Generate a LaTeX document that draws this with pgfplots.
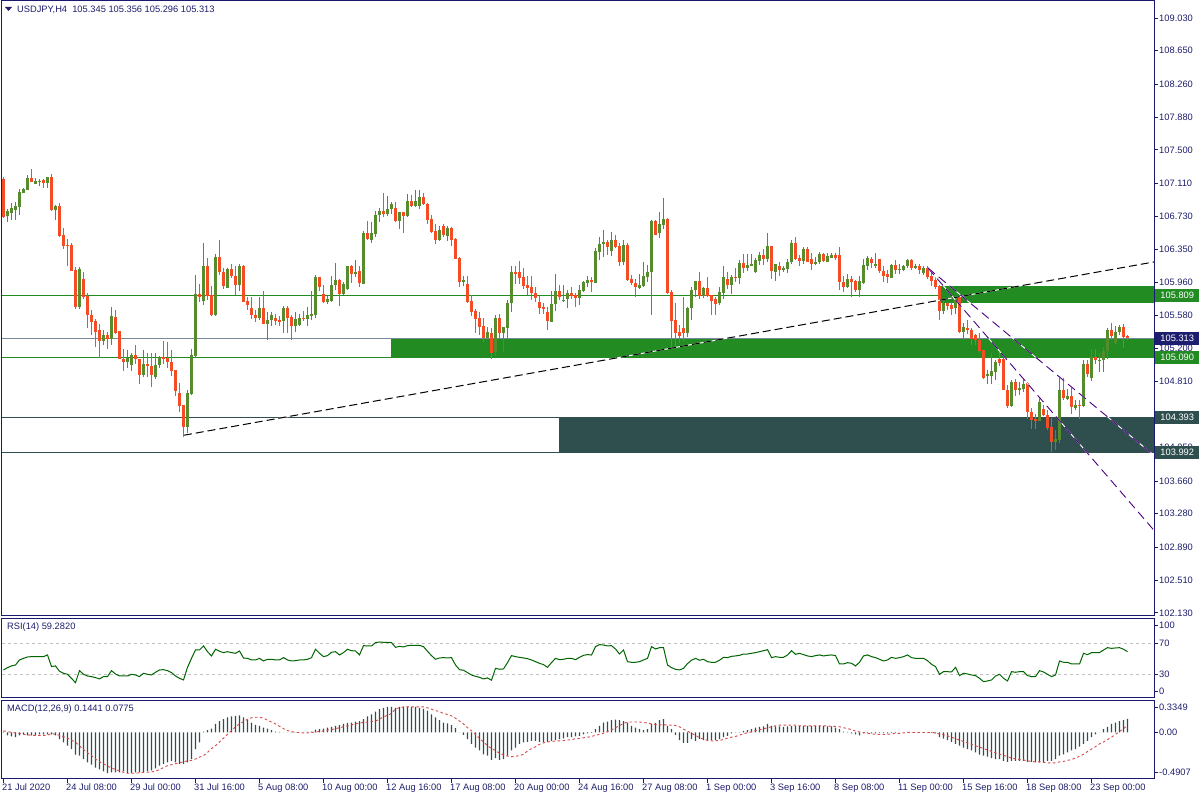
\documentclass[border=0pt]{standalone}
\usepackage{pgfplots}
\usepackage{pgfplotstable}
\usepackage{fontspec}
\pgfplotsset{compat=1.18}
\newfontfamily\lblfont{Liberation Sans}
\newcommand\lbl{\lblfont\fontsize{9.3}{11}\selectfont}
\definecolor{bull}{RGB}{86,140,46}
\definecolor{bear}{RGB}{244,76,36}
\definecolor{navytext}{RGB}{30,30,110}
\definecolor{frame}{RGB}{25,25,112}
\definecolor{fgreen}{RGB}{34,139,34}
\definecolor{dslate}{RGB}{47,79,79}
\definecolor{lsgray}{RGB}{119,136,153}
\definecolor{rsigreen}{RGB}{0,100,0}
\definecolor{sigred}{RGB}{214,74,74}
\definecolor{trpurple}{RGB}{75,0,130}
\definecolor{lvlgray}{RGB}{192,192,192}

\pgfplotstableread{
i o h l c
0 107.16 107.19 106.71 106.72
1 106.73 106.81 106.66 106.79
2 106.77 106.89 106.69 106.83
3 106.80 106.90 106.69 106.85
4 106.84 107.05 106.74 107.01
5 107.00 107.06 107.00 107.05
6 107.04 107.21 107.04 107.17
7 107.17 107.28 107.13 107.13
8 107.11 107.17 107.10 107.14
9 107.13 107.16 107.08 107.14
10 107.15 107.16 107.06 107.12
11 107.12 107.19 107.06 107.19
12 107.19 107.22 106.79 106.80
13 106.80 106.86 106.69 106.85
14 106.85 106.88 106.49 106.50
15 106.51 106.59 106.35 106.39
16 106.40 106.47 106.15 106.39
17 106.40 106.42 106.10 106.10
18 106.11 106.14 105.65 105.68
19 105.68 106.14 105.65 106.12
20 106.00 106.08 105.77 105.79
21 105.80 105.84 105.43 105.58
22 105.58 105.64 105.35 105.50
23 105.52 105.54 105.22 105.39
24 105.41 105.48 105.09 105.28
25 105.28 105.41 105.24 105.35
26 105.35 105.39 105.19 105.31
27 105.31 105.68 105.24 105.57
28 105.56 105.64 105.36 105.38
29 105.40 105.40 105.07 105.07
30 105.07 105.19 104.94 105.04
31 105.04 105.18 104.97 105.08
32 105.00 105.14 104.94 105.12
33 105.12 105.24 105.02 105.07
34 105.07 105.08 104.78 104.89
35 104.89 105.18 104.87 105.02
36 105.02 105.14 104.87 104.99
37 104.99 105.14 104.75 104.89
38 104.86 105.15 104.84 105.01
39 105.00 105.11 104.97 105.10
40 105.10 105.28 105.02 105.07
41 105.09 105.27 104.97 105.04
42 105.04 105.18 104.88 104.94
43 104.95 104.95 104.65 104.70
44 104.68 104.80 104.46 104.53
45 104.54 104.54 104.17 104.29
46 104.29 104.71 104.22 104.68
47 104.67 105.19 104.66 105.12
48 105.11 106.05 105.08 105.83
49 105.83 105.95 105.74 105.80
50 105.75 106.42 105.70 106.15
51 106.15 106.24 105.76 105.81
52 105.82 105.92 105.57 105.58
53 105.58 106.29 105.57 106.26
54 106.26 106.46 106.05 106.08
55 106.09 106.13 105.89 105.92
56 105.90 106.13 105.90 106.12
57 106.12 106.18 106.02 106.04
58 106.04 106.15 105.82 105.93
59 105.93 106.18 105.86 106.15
60 106.15 106.16 105.74 105.74
61 105.75 105.80 105.64 105.70
62 105.66 105.80 105.54 105.58
63 105.58 105.64 105.50 105.55
64 105.55 105.80 105.53 105.67
65 105.67 105.86 105.48 105.48
66 105.48 105.62 105.30 105.53
67 105.53 105.62 105.46 105.58
68 105.55 105.60 105.47 105.52
69 105.53 105.57 105.46 105.50
70 105.51 105.69 105.37 105.67
71 105.67 105.69 105.38 105.55
72 105.56 105.59 105.29 105.46
73 105.46 105.62 105.39 105.54
74 105.47 105.60 105.46 105.55
75 105.55 105.63 105.51 105.54
76 105.54 105.68 105.46 105.59
77 105.58 105.86 105.53 105.60
78 105.58 106.05 105.55 106.02
79 106.02 106.03 105.86 105.91
80 105.83 105.93 105.73 105.73
81 105.73 105.81 105.71 105.77
82 105.75 106.04 105.74 105.93
83 105.93 106.19 105.87 105.99
84 105.99 106.00 105.69 105.83
85 105.83 105.97 105.82 105.94
86 105.89 106.15 105.88 106.15
87 106.15 106.17 105.96 106.06
88 106.06 106.22 106.03 106.08
89 106.10 106.15 105.91 105.96
90 105.95 106.56 105.94 106.54
91 106.54 106.68 106.45 106.47
92 106.46 106.67 106.42 106.54
93 106.53 106.79 106.49 106.75
94 106.75 106.82 106.66 106.79
95 106.79 107.00 106.72 106.76
96 106.76 106.97 106.73 106.82
97 106.81 106.90 106.76 106.87
98 106.83 106.89 106.66 106.68
99 106.68 106.78 106.58 106.78
100 106.78 106.78 106.54 106.73
101 106.73 106.99 106.72 106.91
102 106.91 106.98 106.84 106.85
103 106.85 107.04 106.84 106.91
104 106.85 107.03 106.82 106.95
105 106.95 107.00 106.86 106.87
106 106.87 106.89 106.64 106.69
107 106.70 106.75 106.54 106.55
108 106.56 106.64 106.41 106.46
109 106.46 106.62 106.44 106.57
110 106.62 106.64 106.49 106.51
111 106.50 106.62 106.44 106.59
112 106.59 106.60 106.38 106.46
113 106.47 106.48 106.23 106.23
114 106.25 106.26 105.91 105.97
115 105.97 106.04 105.92 105.99
116 105.94 106.04 105.73 105.74
117 105.75 105.82 105.57 105.62
118 105.63 105.66 105.38 105.54
119 105.55 105.62 105.35 105.45
120 105.46 105.55 105.27 105.32
121 105.32 105.45 105.32 105.39
122 105.38 105.43 105.07 105.15
123 105.15 105.59 105.11 105.55
124 105.55 105.60 105.31 105.37
125 105.37 105.45 105.15 105.44
126 105.43 105.76 105.32 105.72
127 105.72 106.15 105.62 106.09
128 106.08 106.15 105.94 106.07
129 106.08 106.21 105.94 106.01
130 106.02 106.13 105.89 105.92
131 105.93 106.04 105.82 105.90
132 105.91 106.04 105.76 105.84
133 105.84 105.91 105.73 105.78
134 105.74 105.81 105.60 105.67
135 105.68 105.72 105.60 105.66
136 105.62 105.68 105.41 105.51
137 105.51 105.86 105.50 105.71
138 105.71 106.06 105.63 105.86
139 105.86 105.93 105.76 105.79
140 105.75 105.93 105.74 105.76
141 105.77 105.88 105.67 105.84
142 105.84 105.91 105.77 105.80
143 105.82 105.84 105.68 105.78
144 105.78 105.93 105.70 105.88
145 105.86 105.98 105.85 105.97
146 105.96 106.04 105.91 105.99
147 105.99 106.03 105.85 105.97
148 105.96 106.36 105.96 106.33
149 106.32 106.49 106.22 106.41
150 106.41 106.57 106.26 106.43
151 106.43 106.46 106.28 106.37
152 106.33 106.55 106.27 106.46
153 106.46 106.51 106.36 106.37
154 106.39 106.42 106.15 106.20
155 106.20 106.46 106.17 106.40
156 106.40 106.42 105.98 105.99
157 106.00 106.05 105.93 105.96
158 105.96 106.00 105.79 105.91
159 105.90 106.06 105.89 105.93
160 105.92 106.20 105.91 106.04
161 106.03 106.16 105.97 106.08
162 106.08 106.69 105.58 106.68
163 106.68 106.69 106.51 106.51
164 106.54 106.78 106.48 106.64
165 106.63 106.94 106.58 106.70
166 106.70 106.71 105.83 105.84
167 105.85 105.88 105.19 105.52
168 105.53 105.72 105.22 105.38
169 105.39 105.47 105.26 105.34
170 105.43 105.80 105.28 105.38
171 105.38 105.68 105.33 105.67
172 105.66 105.91 105.53 105.88
173 105.88 105.98 105.79 105.98
174 105.98 106.08 105.77 105.81
175 105.81 105.91 105.78 105.90
176 105.90 106.03 105.79 105.81
177 105.82 105.82 105.58 105.75
178 105.77 105.79 105.58 105.71
179 105.73 105.91 105.70 105.85
180 105.84 106.15 105.77 106.02
181 106.00 106.09 105.89 105.93
182 105.93 106.05 105.83 106.03
183 106.03 106.13 105.97 106.02
184 106.02 106.22 105.94 106.19
185 106.19 106.29 106.07 106.13
186 106.13 106.29 106.10 106.17
187 106.15 106.29 106.15 106.18
188 106.08 106.25 106.07 106.22
189 106.21 106.31 106.17 106.28
190 106.28 106.35 106.17 106.23
191 106.23 106.54 106.20 106.39
192 106.39 106.39 106.00 106.09
193 106.09 106.18 105.98 106.18
194 106.15 106.20 106.04 106.11
195 106.11 106.15 106.08 106.13
196 106.12 106.24 106.07 106.20
197 106.20 106.46 106.18 106.42
198 106.42 106.49 106.22 106.23
199 106.25 106.28 106.15 106.21
200 106.21 106.38 106.18 106.35
201 106.35 106.37 106.20 106.20
202 106.23 106.30 106.11 106.18
203 106.18 106.26 106.17 106.20
204 106.20 106.32 106.18 106.29
205 106.29 106.30 106.20 106.21
206 106.20 106.30 106.20 106.27
207 106.25 106.30 106.24 106.28
208 106.28 106.30 106.22 106.25
209 106.28 106.37 105.87 105.97
210 105.97 106.04 105.85 105.91
211 105.91 106.06 105.90 106.00
212 106.00 106.04 105.80 105.97
213 105.98 105.99 105.85 105.87
214 105.87 106.04 105.79 105.98
215 105.96 106.24 105.95 106.17
216 106.15 106.27 106.11 106.25
217 106.23 106.26 106.13 106.19
218 106.15 106.30 106.13 106.18
219 106.23 106.24 106.07 106.09
220 106.10 106.15 105.97 106.04
221 106.06 106.11 105.96 106.02
222 106.02 106.18 106.01 106.17
223 106.17 106.22 106.06 106.11
224 106.11 106.18 106.06 106.12
225 106.11 106.17 106.10 106.15
226 106.15 106.24 106.13 106.22
227 106.22 106.24 106.11 106.13
228 106.13 106.18 106.12 106.15
229 106.15 106.18 106.06 106.11
230 106.07 106.15 106.05 106.13
231 106.13 106.15 106.00 106.03
232 106.04 106.09 105.92 105.98
233 105.99 106.04 105.89 105.91
234 105.92 105.93 105.53 105.63
235 105.63 105.75 105.60 105.72
236 105.72 105.74 105.64 105.69
237 105.70 105.74 105.59 105.65
238 105.67 105.81 105.60 105.79
239 105.80 105.81 105.38 105.39
240 105.39 105.49 105.30 105.45
241 105.43 105.53 105.37 105.41
242 105.41 105.43 105.24 105.31
243 105.35 105.37 105.24 105.29
244 105.30 105.38 105.14 105.17
245 105.18 105.18 104.84 104.86
246 104.88 104.95 104.79 104.90
247 104.88 105.14 104.78 104.94
248 104.92 105.06 104.83 105.04
249 105.07 105.16 104.99 105.03
250 105.07 105.08 104.71 104.72
251 104.72 104.77 104.51 104.53
252 104.53 104.83 104.52 104.81
253 104.81 104.84 104.64 104.71
254 104.71 104.81 104.66 104.74
255 104.73 104.84 104.69 104.79
256 104.80 104.81 104.38 104.46
257 104.46 104.50 104.26 104.37
258 104.38 104.44 104.26 104.36
259 104.36 104.62 104.35 104.57
260 104.49 104.54 104.41 104.42
261 104.43 104.48 104.25 104.27
262 104.28 104.39 104.00 104.11
263 104.11 104.25 104.02 104.15
264 104.14 104.86 104.10 104.72
265 104.72 104.85 104.60 104.62
266 104.61 104.73 104.60 104.65
267 104.65 104.75 104.44 104.52
268 104.50 104.60 104.48 104.54
269 104.54 104.60 104.38 104.53
270 104.53 105.06 104.52 105.02
271 105.02 105.06 104.87 104.90
272 104.86 105.19 104.82 105.10
273 105.10 105.19 105.02 105.06
274 105.06 105.14 104.92 105.06
275 105.06 105.22 104.92 105.17
276 105.17 105.43 105.08 105.41
277 105.41 105.49 105.30 105.34
278 105.26 105.46 105.25 105.39
279 105.39 105.47 105.35 105.45
280 105.44 105.48 105.20 105.33
281 105.345 105.356 105.296 105.313
}\candles

\pgfplotstableread{
i r m s
0 35.6 0.01 0.017
1 38.6 -0.03 0.01
2 40.8 -0.04 0.0
3 42 -0.05 -0.005
4 48.5 -0.03 -0.01
5 50.6 -0.02 -0.02
6 52.4 -0.03 -0.025
7 52.8 -0.03 -0.03
8 52.8 -0.03 -0.03
9 52.8 -0.02 -0.03
10 52.8 -0.02 -0.03
11 55 -0.02 -0.03
12 40 -0.02 -0.01
13 40.8 -0.03 -0.02
14 33.9 -0.07 -0.03
15 31.3 -0.105 -0.045
16 30 -0.14 -0.06
17 24.8 -0.175 -0.08
18 19.2 -0.235 -0.105
19 34.7 -0.245 -0.14
20 30 -0.28 -0.18
21 27.8 -0.315 -0.215
22 27 -0.34 -0.245
23 25.7 -0.37 -0.28
24 24 -0.39 -0.31
25 27 -0.41 -0.33
26 27 -0.43 -0.355
27 34.7 -0.42 -0.375
28 30.4 -0.42 -0.39
29 27.8 -0.42 -0.405
30 27.8 -0.41 -0.42
31 27.8 -0.43 -0.43
32 30 -0.43 -0.43
33 29.1 -0.42 -0.43
34 27 -0.42 -0.425
35 31.3 -0.42 -0.42
36 30 -0.41 -0.42
37 29.1 -0.40 -0.415
38 32.6 -0.38 -0.41
39 35.6 -0.35 -0.39
40 36 -0.33 -0.37
41 34.7 -0.315 -0.35
42 32.2 -0.30 -0.34
43 27.8 -0.315 -0.33
44 24.8 -0.33 -0.32
45 22.7 -0.33 -0.31
46 39 -0.315 -0.30
47 50.6 -0.28 -0.295
48 61.4 -0.175 -0.28
49 61.4 -0.105 -0.26
50 66.6 0.01 -0.245
51 59.2 0.025 -0.21
52 53.7 0.04 -0.17
53 62.3 0.09 -0.14
54 59.7 0.12 -0.1
55 58 0.14 -0.06
56 59.2 0.16 -0.02
57 58 0.17 0.02
58 57.1 0.175 0.06
59 60.1 0.18 0.09
60 51 0.16 0.115
61 50.6 0.13 0.14
62 48.5 0.105 0.155
63 48.5 0.08 0.16
64 50.6 0.07 0.16
65 47.2 0.05 0.15
66 49.4 0.04 0.13
67 49.4 0.025 0.11
68 48.5 0.01 0.09
69 48.5 0.005 0.065
70 51.5 0 0.04
71 48.5 0 0.02
72 47.2 0.005 0.01
73 47.6 0 0.0
74 48.5 0 0.0
75 48.5 0 -0.005
76 49.4 0.005 -0.005
77 51.5 0.01 0
78 62.3 0.03 0.005
79 57.1 0.035 0.01
80 52.8 0.04 0.015
81 54.1 0.05 0.025
82 58.4 0.06 0.03
83 59.2 0.07 0.04
84 55 0.077 0.05
85 58 0.09 0.06
86 62.3 0.10 0.07
87 60.5 0.105 0.08
88 60.1 0.115 0.09
89 55 0.12 0.1
90 67 0.14 0.105
91 66.6 0.17 0.11
92 66.6 0.19 0.115
93 70.9 0.22 0.12
94 71.7 0.245 0.14
95 71.3 0.26 0.165
96 71.3 0.27 0.18
97 70.9 0.27 0.2
98 64.8 0.26 0.25
99 66.1 0.27 0.26
100 65.3 0.27 0.27
101 67 0.27 0.27
102 67.4 0.27 0.27
103 67.4 0.27 0.27
104 67.4 0.26 0.27
105 65.7 0.25 0.27
106 59.7 0.23 0.26
107 54.1 0.19 0.245
108 49.4 0.16 0.23
109 51.1 0.13 0.22
110 51.5 0.105 0.2
111 51.1 0.095 0.19
112 51.5 0.077 0.175
113 42 0.045 0.15
114 36 0.0 0.12
115 35.2 -0.025 0.09
116 32.2 -0.07 0.05
117 29.1 -0.12 0.018
118 27.4 -0.16 -0.02
119 26.1 -0.19 -0.063
120 24 -0.23 -0.1
121 25.3 -0.245 -0.14
122 22.3 -0.29 -0.17
123 37.7 -0.27 -0.19
124 36.5 -0.29 -0.22
125 36.9 -0.28 -0.235
126 45.1 -0.245 -0.25
127 54.1 -0.19 -0.255
128 52.8 -0.16 -0.25
129 51.9 -0.12 -0.245
130 51.1 -0.105 -0.23
131 50.2 -0.1 -0.195
132 48.5 -0.09 -0.17
133 46.3 -0.09 -0.15
134 44.2 -0.1 -0.125
135 42.5 -0.105 -0.11
136 39 -0.1 -0.1
137 45.1 -0.09 -0.095
138 50.6 -0.08 -0.09
139 48.9 -0.07 -0.088
140 49.4 -0.063 -0.085
141 50.6 -0.05 -0.08
142 50.6 -0.05 -0.075
143 48.9 -0.04 -0.066
144 51.9 -0.035 -0.063
145 54.5 -0.02 -0.056
146 55.4 -0.01 -0.05
147 54.9 -0.005 -0.042
148 65.7 0.035 -0.03
149 68.3 0.07 -0.02
150 67.8 0.105 -0.007
151 66.6 0.115 0.01
152 67 0.13 0.028
153 62.7 0.135 0.05
154 56.2 0.13 0.073
155 61.4 0.12 0.095
156 46.3 0.105 0.11
157 45.5 0.07 0.11
158 45.5 0.05 0.11
159 46.3 0.035 0.11
160 48.5 0.025 0.105
161 50.6 0.035 0.1
162 65.7 0.09 0.09
163 62.7 0.1 0.084
164 64.4 0.13 0.08
165 64.4 0.14 0.08
166 42 0.07 0.08
167 38.6 0.035 0.077
168 36.5 -0.025 0.073
169 35.6 -0.08 0.06
170 37.7 -0.11 0.035
171 43.8 -0.11 0.014
172 48.1 -0.07 -0.01
173 50.6 -0.09 -0.03
174 48.1 -0.07 -0.056
175 49.4 -0.08 -0.07
176 46.3 -0.09 -0.084
177 45.5 -0.08 -0.088
178 45.5 -0.08 -0.088
179 48.1 -0.07 -0.084
180 51.9 -0.05 -0.074
181 51.5 -0.035 -0.06
182 53.2 -0.01 -0.05
183 53.7 0.003 -0.042
184 54.5 0.003 -0.028
185 56.2 0.018 -0.014
186 56.2 0.025 -0.003
187 57.1 0.035 0.007
188 58 0.05 0.018
189 59.2 0.06 0.028
190 60.5 0.063 0.038
191 61.8 0.09 0.05
192 51.5 0.07 0.06
193 52.8 0.063 0.07
194 51.9 0.063 0.077
195 51.9 0.06 0.077
196 54.9 0.063 0.077
197 60.5 0.066 0.077
198 55.8 0.066 0.077
199 57.1 0.07 0.07
200 55.4 0.07 0.07
201 53.7 0.07 0.07
202 52.8 0.07 0.07
203 54.1 0.07 0.07
204 55 0.07 0.07
205 53.7 0.07 0.07
206 54.5 0.065 0.068
207 55 0.065 0.065
208 54.1 0.05 0.063
209 43.3 0.035 0.06
210 43.3 0.01 0.05
211 45 0.005 0.04
212 44.2 -0.01 0.03
213 40.8 -0.02 0.015
214 45.5 -0.03 0.005
215 53.7 -0.01 0
216 55 -0.005 -0.01
217 52.8 -0.01 -0.015
218 51.5 -0.01 -0.02
219 49.4 -0.005 -0.02
220 47.2 -0.005 -0.02
221 48.5 -0.01 -0.02
222 51.9 -0.005 -0.015
223 50.6 -0.005 -0.01
224 51.5 0 -0.01
225 52.8 0 -0.005
226 55 0.005 0
227 51.5 0 0
228 50.6 0 0
229 50.6 0 0
230 50.6 0 0
231 47.6 0 0
232 42.9 -0.005 0
233 39.9 -0.01 -0.005
234 30 -0.05 -0.015
235 33.4 -0.065 -0.025
236 33.4 -0.08 -0.035
237 33 -0.1 -0.05
238 39 -0.12 -0.065
239 28.3 -0.14 -0.08
240 31.3 -0.16 -0.095
241 30.4 -0.175 -0.11
242 29.1 -0.19 -0.125
243 28.3 -0.21 -0.14
244 24.8 -0.235 -0.155
245 20.5 -0.245 -0.17
246 21.4 -0.255 -0.185
247 22.7 -0.27 -0.2
248 27.8 -0.28 -0.215
249 30 -0.28 -0.23
250 24.8 -0.30 -0.24
251 21.4 -0.31 -0.255
252 33.4 -0.30 -0.27
253 32.6 -0.30 -0.28
254 33.4 -0.30 -0.285
255 33.4 -0.30 -0.29
256 28.3 -0.31 -0.3
257 27 -0.31 -0.305
258 27 -0.315 -0.31
259 34.7 -0.315 -0.31
260 33 -0.31 -0.315
261 30 -0.30 -0.32
262 27 -0.30 -0.32
263 29.1 -0.28 -0.32
264 47.2 -0.245 -0.31
265 45.5 -0.23 -0.305
266 45.5 -0.21 -0.295
267 43.3 -0.19 -0.285
268 43.3 -0.175 -0.27
269 43.3 -0.15 -0.25
270 57.1 -0.12 -0.23
271 55.4 -0.09 -0.2
272 58 -0.05 -0.175
273 58 -0.02 -0.15
274 58 0 -0.12
275 61.4 0.035 -0.1
276 64.4 0.06 -0.075
277 63.5 0.09 -0.05
278 64 0.105 -0.02
279 64.4 0.12 0.01
280 62.3 0.13 0.04
281 59.28 0.1441 0.0775
}\ind

\pgfplotsset{
  panel/.style={
    scale only axis, width=1152pt, xmin=-0.375, xmax=287.625,
    axis line style={draw=frame, line width=1pt},
    tick style={draw=frame, line width=0.8pt},
    tick align=outside, major tick length=4pt,
    ytick pos=right, yticklabel pos=right,
    yticklabel style={anchor=west, inner sep=0pt, xshift=1pt, font=\lbl, text=navytext},
    anchor=south west, clip=true
  }
}
\tikzset{tag/.style={anchor=west, inner sep=0pt, minimum width=44pt, minimum height=13pt, text=white, font=\lbl, xshift=1pt}}

\begin{document}
\begin{tikzpicture}
\useasboundingbox (0,0) rectangle (1200pt,800pt);
\fill[white] (0,0) rectangle (1200pt,800pt);

% ---------- main price panel ----------
\begin{axis}[panel, at={(2pt,184pt)}, height=615pt,
  ymin=102.093, ymax=109.227, xtick=\empty,
  ytick={109.03,108.65,108.26,107.88,107.5,107.11,106.73,106.35,105.96,105.58,105.2,104.81,104.43,104.05,103.66,103.28,102.89,102.51,102.13},
  yticklabels={109.030,108.650,108.260,107.880,107.500,107.110,106.730,106.350,105.960,105.580,105.200,104.810,{},104.050,103.660,103.280,102.890,102.510,102.130}]
  \fill[fgreen] (axis cs:234.1,105.728) rectangle (axis cs:287.625,105.921);
  \fill[fgreen] (axis cs:96.9,105.090) rectangle (axis cs:287.625,105.313);
  \fill[dslate] (axis cs:138.9,103.992) rectangle (axis cs:287.625,104.393);
  \addplot[draw=fgreen, line width=1.1pt] coordinates {(-0.375,105.809) (234.1,105.809)};
  \addplot[draw=fgreen, line width=1.1pt] coordinates {(-0.375,105.090) (287.625,105.090)};
  \addplot[draw=lsgray, line width=1.1pt] coordinates {(-0.375,105.313) (287.625,105.313)};
  \addplot[draw=dslate, line width=1.1pt] coordinates {(-0.375,104.393) (287.625,104.393)};
  \addplot[draw=dslate, line width=1.1pt] coordinates {(-0.375,103.992) (287.625,103.992)};
  \addplot[draw=none, mark=none, error bars/.cd, y dir=both, y explicit, error mark=none,
    error bar style={bull, line width=1pt}]
    table[x=i, y expr={\thisrow{c}>=\thisrow{o} ? (\thisrow{h}+\thisrow{l})/2 : nan},
          y error expr={(\thisrow{h}-\thisrow{l})/2}] {\candles};
  \addplot[draw=none, mark=none, error bars/.cd, y dir=both, y explicit, error mark=none,
    error bar style={bear, line width=1pt}]
    table[x=i, y expr={\thisrow{c}<\thisrow{o} ? (\thisrow{h}+\thisrow{l})/2 : nan},
          y error expr={(\thisrow{h}-\thisrow{l})/2}] {\candles};
  \addplot[draw=none, mark=none, error bars/.cd, y dir=both, y explicit, error mark=none,
    error bar style={bull, line width=3pt}]
    table[x=i, y expr={\thisrow{c}>=\thisrow{o} ? (\thisrow{o}+\thisrow{c})/2 : nan},
          y error expr={max(abs(\thisrow{c}-\thisrow{o})/2,0.006)}] {\candles};
  \addplot[draw=none, mark=none, error bars/.cd, y dir=both, y explicit, error mark=none,
    error bar style={bear, line width=3pt}]
    table[x=i, y expr={\thisrow{c}<\thisrow{o} ? (\thisrow{o}+\thisrow{c})/2 : nan},
          y error expr={max(abs(\thisrow{c}-\thisrow{o})/2,0.006)}] {\candles};
  \addplot[white, line width=1pt] coordinates {(45.1,104.19) (287.625,106.20)};
  \addplot[black, line width=1pt, dash pattern=on 8pt off 4pt] coordinates {(45.1,104.19) (287.625,106.20)};
  \addplot[white, line width=0.9pt] coordinates {(231.1,106.13) (287.625,103.086)};
  \addplot[trpurple, line width=0.9pt, dash pattern=on 9pt off 5pt] coordinates {(231.1,106.13) (287.625,103.086)};
  \addplot[white, line width=0.9pt] coordinates {(231.1,106.13) (287.625,103.956)};
  \addplot[trpurple, line width=0.9pt, dash pattern=on 9pt off 5pt] coordinates {(231.1,106.13) (287.625,103.956)};
  \coordinate (tA) at (axis cs:287.625,105.809);
  \coordinate (tB) at (axis cs:287.625,105.313);
  \coordinate (tC) at (axis cs:287.625,105.090);
  \coordinate (tD) at (axis cs:287.625,104.393);
  \coordinate (tE) at (axis cs:287.625,103.992);
\end{axis}

\node[tag, fill=fgreen] at (tA) {105.809};
\node[tag, fill=fgreen] at (tC) {105.090};
\node[tag, fill=navytext] at (tB) {105.313};
\node[tag, fill=dslate] at (tD) {104.393};
\node[tag, fill=dslate] at (tE) {103.992};

% ---------- RSI panel ----------
\begin{axis}[panel, at={(2pt,102pt)}, height=79pt,
  ymin=-0.6, ymax=101.4, xtick=\empty,
  ytick={8.5,30,70,93.6}, yticklabels={0,30,70,100}]
  \addplot[lvlgray, line width=0.8pt, dash pattern=on 3pt off 3pt] coordinates {(-0.375,70) (287.625,70)};
  \addplot[lvlgray, line width=0.8pt, dash pattern=on 3pt off 3pt] coordinates {(-0.375,30) (287.625,30)};
  \addplot[rsigreen, line width=1pt] table[x=i, y=r] {\ind};
\end{axis}

% ---------- MACD panel ----------
\begin{axis}[panel, at={(2pt,21pt)}, height=78.3pt,
  ymin=-0.4907, ymax=0.3349,
  ytick={-0.42,0,0.2685}, yticklabels={-0.4907,0.00,0.3349},
  xtick={0,16,...,272}, xtick pos=bottom,
  xticklabels={21 Jul 2020,24 Jul 08:00,29 Jul 00:00,31 Jul 16:00,5 Aug 08:00,10 Aug 00:00,12 Aug 16:00,17 Aug 08:00,20 Aug 00:00,24 Aug 16:00,27 Aug 08:00,1 Sep 00:00,3 Sep 16:00,8 Sep 08:00,11 Sep 00:00,15 Sep 16:00,18 Sep 08:00,23 Sep 00:00},
  xticklabel style={anchor=north west, inner sep=0pt, xshift=-1.5pt, yshift=-1pt, font=\lbl, text=navytext}]
  \addplot[ybar, bar width=1.2pt, fill=dslate, draw=none] table[x=i, y=m] {\ind};
  \addplot[sigred, line width=0.9pt, dash pattern=on 2.5pt off 2.5pt] table[x=i, y=s] {\ind};
\end{axis}

\fill[navytext] (5pt,793pt) -- (12pt,793pt) -- (8.5pt,789pt) -- cycle;
\node[anchor=west, inner sep=0pt, font=\lbl, text=navytext] at (17pt,790.5pt) {USDJPY,H4\ \ 105.345 105.356 105.296 105.313};
\node[anchor=west, inner sep=0pt, font=\lbl, text=navytext] at (7pt,173pt) {RSI(14) 59.2820};
\node[anchor=west, inner sep=0pt, font=\lbl, text=navytext] at (7pt,91pt) {MACD(12,26,9) 0.1441 0.0775};
\end{tikzpicture}
\end{document}
